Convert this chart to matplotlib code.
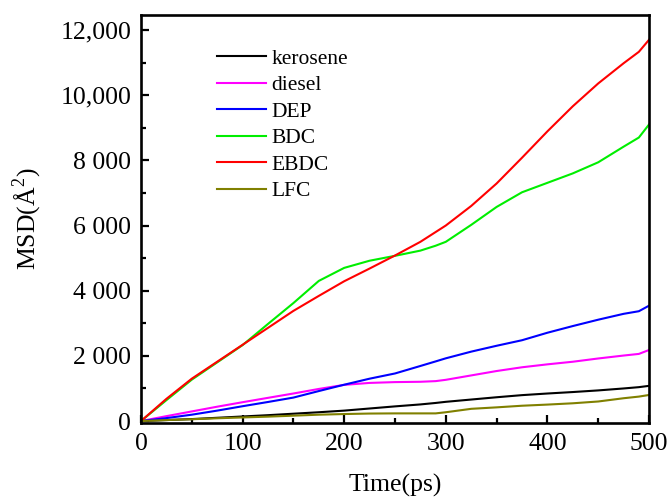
import matplotlib
matplotlib.use("Agg")
import matplotlib.pyplot as plt
from matplotlib.ticker import MultipleLocator, FixedLocator, FixedFormatter

plt.rcParams["font.family"] = ["Liberation Serif", "DejaVu Serif"]
plt.rcParams["mathtext.fontset"] = "custom"
plt.rcParams["mathtext.rm"] = "Liberation Serif"

# time axis (ps)
time_ps = [0, 25, 50, 75, 100, 125, 150, 175, 200, 225, 250, 275, 290, 300,
           325, 350, 375, 400, 425, 450, 475, 490, 500]

# MSD values
kerosene = [0, 30, 60, 100, 140, 180, 225, 270, 320, 385, 450, 510, 555, 590,
            660, 730, 795, 845, 890, 940, 1000, 1040, 1080]
diesel = [0, 150, 295, 440, 578, 712, 845, 985, 1110, 1170, 1195, 1205, 1225, 1265,
          1400, 1535, 1650, 1740, 1820, 1920, 2010, 2060, 2180]
dep = [0, 90, 195, 320, 455, 585, 720, 920, 1115, 1300, 1460, 1690, 1830, 1925,
       2130, 2310, 2480, 2710, 2915, 3110, 3290, 3370, 3540]
bdc = [0, 640, 1270, 1800, 2330, 2980, 3620, 4300, 4700, 4920, 5070, 5230, 5380, 5500,
       6020, 6570, 7020, 7310, 7600, 7940, 8420, 8700, 9100]
ebdc = [0, 680, 1300, 1820, 2340, 2860, 3380, 3840, 4290, 4680, 5080, 5500, 5800, 6000,
        6600, 7290, 8080, 8890, 9660, 10360, 10980, 11330, 11700]
lfc = [0, 30, 55, 85, 110, 135, 165, 195, 215, 230, 235, 235, 235, 270,
       375, 420, 470, 505, 545, 600, 700, 750, 800]

series = [
    ("kerosene", kerosene, "black"),
    ("diesel", diesel, "#ff00ff"),
    ("DEP", dep, "#0000ff"),
    ("BDC", bdc, "#00ee00"),
    ("EBDC", ebdc, "#ff0000"),
    ("LFC", lfc, "#808000"),
]

y_ticks = [0, 2000, 4000, 6000, 8000, 10000, 12000]
y_tick_labels = ["0", "2 000", "4 000", "6 000", "8 000", "10,000", "12,000"]

fig = plt.figure(figsize=(6.7, 5.0), dpi=100)
ax = fig.add_axes([0.2104, 0.154, 0.7583, 0.816])

for name, vals, col in series:
    ax.plot(time_ps, vals, color=col, linewidth=1.5, label=name)

ax.set_xlim(0, 500)
ax.set_ylim(-60, 12460)
ax.xaxis.set_major_locator(MultipleLocator(100))
ax.xaxis.set_minor_locator(MultipleLocator(50))
ax.yaxis.set_major_locator(FixedLocator(y_ticks))
ax.yaxis.set_major_formatter(FixedFormatter(y_tick_labels))
ax.yaxis.set_minor_locator(MultipleLocator(1000))

ax.tick_params(which="both", direction="in", width=1.6, labelsize=18.5,
               top=False, right=False)
ax.tick_params(which="major", length=6)
ax.tick_params(axis="x", which="major", pad=7)
ax.tick_params(axis="y", which="major", pad=7)
ax.tick_params(which="minor", length=3.5)
for sp in ax.spines.values():
    sp.set_linewidth(1.9)

ax.set_xlabel("Time(ps)", fontsize=18.5, labelpad=14)
ax.set_ylabel("MSD(Å$^{2}$)", fontsize=18.5, labelpad=12)

ax.legend(loc="upper left", bbox_to_anchor=(0.112, 0.965), frameon=False,
          fontsize=15.5, handlelength=2.27, labelspacing=0.3, handletextpad=0.25)

fig.savefig("out.png", dpi=100, facecolor="white")
